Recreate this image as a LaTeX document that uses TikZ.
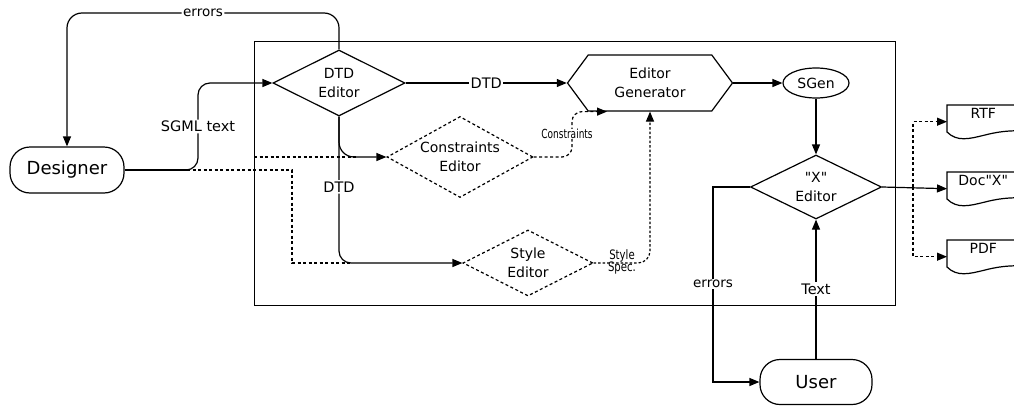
\documentclass[tikz,border=0pt]{standalone}
\usepackage{fontspec}
\setmainfont{DejaVu Sans}[Ligatures=TeXOff]
\usepackage{graphicx}
\usetikzlibrary{shapes.geometric,shapes.symbols,arrows.meta,calc}

\tikzset{
  plain/.style={line width=1.2pt},
  tip/.style={-{Triangle[length=10pt,width=8pt]}},
  conn/.style={plain, tip},
  dashedline/.style={line width=1.2pt, dash pattern=on 3pt off 2.5pt},
  dotline/.style={line width=1.2pt, dash pattern=on 2.5pt off 2pt},
  txt/.style={font=\fontsize{14}{19}\selectfont},
  dec/.style={diamond, draw, plain, aspect=2, inner sep=0pt, align=center, txt},
  term/.style={rectangle, rounded corners=20pt, draw, plain, inner sep=0pt,
    font=\fontsize{18}{20}\selectfont},
  lbl/.style={fill=white, inner sep=1.5pt, font=\fontsize{13.5}{15}\selectfont},
  docbox/.style={anchor=north west, minimum width=72pt, inner xsep=0pt,
    inner ysep=2pt, text height=11pt, text depth=18pt, txt},
}

% wavy-bottomed document outline around a docbox node
\newcommand\docoutline[1]{%
  \draw[plain] ($(#1.north east)+(10,0)$) -- (#1.north west)
    -- ($(#1.north west)+(0,27)$)
    .. controls ($(#1.north west)+(10,37)$) and ($(#1.north west)+(22,34)$)
    .. ($(#1.north west)+(38,30)$)
    .. controls ($(#1.north west)+(50,27)$) and ($(#1.north west)+(62,25)$)
    .. ($(#1.north west)+(80,26)$);}

\begin{document}
\begin{tikzpicture}[x=1pt,y=-1pt]
\useasboundingbox (0,0) rectangle (1014,407);

% system frame
\node[draw, plain, anchor=north west, minimum width=641pt, minimum height=264pt,
  inner sep=0pt] (frame) at (254,41) {};

% actors
\node[term, minimum width=114pt, minimum height=46pt] (des) at (67,170) {Designer};
\node[term, minimum width=112pt, minimum height=45pt] (user) at (816,382) {User};

% processes
\node[dec, minimum width=132pt, minimum height=66pt] (dtd) at (339,83) {DTD\\Editor};
\node[dec, dashedline, minimum width=146pt, minimum height=81pt] (cons) at (460,157) {Constraints\\Editor};
\node[dec, dashedline, minimum width=130pt, minimum height=66pt] (style) at (528,263) {Style\\Editor};
\node[signal, signal to=east and west, signal pointer angle=107, draw, plain,
  minimum width=165pt, minimum height=56pt, inner sep=0pt, align=center, txt]
  (gen) at (650,83) {Editor\\Generator};
\node[ellipse, draw, plain, minimum width=66pt, minimum height=30pt, inner sep=0pt, txt]
  (sgen) at (816,83) {SGen};
\node[dec, minimum width=131pt, minimum height=64pt] (xed) at (816,187) {"X"\\Editor};

% output documents
\node[docbox] (rtf) at (947,105) {RTF};
\node[docbox] (docx) at (947,172) {Doc"X"};
\node[docbox] (pdf) at (947,240) {PDF};
\docoutline{rtf}
\docoutline{docx}
\docoutline{pdf}

% helper points
\coordinate (split) at (187,170);
\coordinate (sg) at (198,170);
\coordinate (etop) at (200,13);
\coordinate (dz) at (292,263);
\coordinate (dz2) at (352,263);
\coordinate (cj) at (356,157);
\coordinate (cv) at (572,135);
\coordinate (fork) at (913,187);
\coordinate (ex) at (713,300);

% designer side
\draw[conn, rounded corners=15pt] (dtd.north) -- (dtd.north |- etop)
  -| node[pos=0.25, lbl] {errors} (des.north);
\draw[plain] (des.east) -- (split);
\draw[conn, rounded corners=12pt] (split) -- (sg)
  |- node[pos=0.25, lbl, font=\fontsize{14.5}{16}\selectfont] {SGML text} (dtd.west);
\draw[dashedline] (split) -| (dz) -- (dz2);
\draw[dashedline] (frame.west |- cons.west) -- (cj);

% DTD flows
\draw[conn, rounded corners=15pt] (dtd.south) |- (cons.west);
\draw[conn, rounded corners=12pt] (dtd.south)
  |- node[pos=0.24, lbl, font=\fontsize{14.5}{16}\selectfont] {DTD} (style.west);
\draw[conn] (dtd.east) -- node[lbl, font=\fontsize{14.5}{16}\selectfont] {DTD} (gen.west);

% constraints and style specs into the generator
\draw[dashedline, tip, rounded corners=10pt] (cons.east) -| (cv)
  |- ($(gen.south)+(-43,0)$);
\node[lbl, inner sep=0.5pt] at (567,134)
  {\scalebox{0.72}[1]{\fontsize{12.5}{14}\selectfont Constraints}};
\draw[dotline, tip, rounded corners=12pt] (style.east) -| (gen.south);
\node[inner sep=0pt] at (622,262)
  {\scalebox{0.78}[1]{\fontsize{13}{12}\selectfont
   \begin{tabular}{@{}c@{}}Style\\[-1pt]Spec.\end{tabular}}};

% generator chain
\draw[conn] (gen.east) -- (sgen.west);
\draw[conn] (sgen.south) -- (xed.north);
\draw[conn] (xed.east) -- (docx.west);
\draw[dashedline, tip] (fork) |- (rtf.west);
\draw[dashedline, tip] (fork) |- (pdf.west);

% user interaction
\draw[conn] (xed.west) -| (ex) |- (user.west);
\node[lbl] at (713,284) {errors};
\draw[conn] (user.north) -- node[lbl, font=\fontsize{14.5}{16}\selectfont] {Text} (xed.south);
\end{tikzpicture}
\end{document}
